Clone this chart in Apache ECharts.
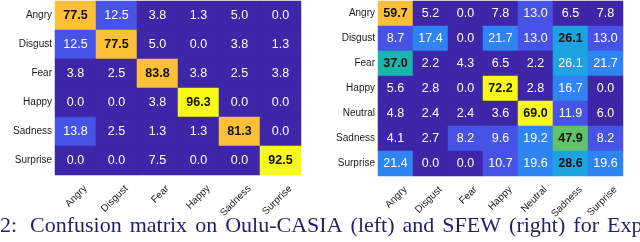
<!DOCTYPE html>
<html>
<head>
<meta charset="utf-8">
<script src="https://cdn.jsdelivr.net/npm/echarts@6/dist/echarts.min.js"></script>
<style>
html,body{margin:0;padding:0;background:#fff;}
#c{width:640px;height:242px;}
</style>
</head>
<body>
<div id="c"></div>
<script>
const leftCategories = ['Angry','Disgust','Fear','Happy','Sadness','Surprise'];
const rightCategories = ['Angry','Disgust','Fear','Happy','Neutral','Sadness','Surprise'];

const leftAngry    = [77.5, 12.5, 3.8, 1.3, 5.0, 0.0];
const leftDisgust  = [12.5, 77.5, 5.0, 0.0, 3.8, 1.3];
const leftFear     = [3.8, 2.5, 83.8, 3.8, 2.5, 3.8];
const leftHappy    = [0.0, 0.0, 3.8, 96.3, 0.0, 0.0];
const leftSadness  = [13.8, 2.5, 1.3, 1.3, 81.3, 0.0];
const leftSurprise = [0.0, 0.0, 7.5, 0.0, 0.0, 92.5];

const rightAngry    = [59.7, 5.2, 0.0, 7.8, 13.0, 6.5, 7.8];
const rightDisgust  = [8.7, 17.4, 0.0, 21.7, 13.0, 26.1, 13.0];
const rightFear     = [37.0, 2.2, 4.3, 6.5, 2.2, 26.1, 21.7];
const rightHappy    = [5.6, 2.8, 0.0, 72.2, 2.8, 16.7, 0.0];
const rightNeutral  = [4.8, 2.4, 2.4, 3.6, 69.0, 11.9, 6.0];
const rightSadness  = [4.1, 2.7, 8.2, 9.6, 19.2, 47.9, 8.2];
const rightSurprise = [21.4, 0.0, 0.0, 10.7, 19.6, 28.6, 19.6];

const captionWords = ['2:', 'Confusion', 'matrix', 'on', 'Oulu-CASIA', '(left)', 'and', 'SFEW', '(right)', 'for', 'Exp'];

const leftMatrix = [leftAngry, leftDisgust, leftFear, leftHappy, leftSadness, leftSurprise];
const rightMatrix = [rightAngry, rightDisgust, rightFear, rightHappy, rightNeutral, rightSadness, rightSurprise];

function buildData(m) {
  const out = [];
  m.forEach((row, r) => {
    const mx = Math.max.apply(null, row);
    row.forEach((v, c) => {
      const isMax = v === mx;
      out.push({
        value: [c, r, v],
        label: {
          color: isMax ? '#111' : '#fff',
          fontWeight: isMax ? 'bold' : 'normal'
        }
      });
    });
  });
  return out;
}

const palette = ['#3e26a8', '#4752e6', '#2e84f2', '#1da2e2', '#1ab6ae', '#60c36a', '#b8bd3a', '#fbbf38', '#f8f916'];
const leftColors = ['#3e26a8', '#4752e6', '#2e84f2', '#1da2e2', '#1ab6ae', '#8cc24c', '#fbbf38', '#f8f916'];

function pieces(maxV, colors) {
  const n = colors.length, w = maxV / n, p = [];
  for (let i = 0; i < n; i++) {
    const piece = { color: colors[i] };
    if (i > 0) piece.gte = w * i;
    if (i < n - 1) piece.lt = w * (i + 1);
    p.push(piece);
  }
  return p;
}

const yLabelFont = { fontFamily: 'Liberation Sans, Arial, sans-serif', fontSize: 10, color: '#1a1a1a' };
const xLabelFont = { fontFamily: 'Liberation Sans, Arial, sans-serif', fontSize: 10, color: '#1a1a1a' };

function hiddenX(grid, cats) {
  return { type: 'category', gridIndex: grid, data: cats, axisLine: { show: false }, axisTick: { show: false }, axisLabel: { show: false }, splitLine: { show: false } };
}
function labelX(grid, cats) {
  return { type: 'category', gridIndex: grid, data: cats, axisLine: { show: false }, axisTick: { show: false },
    axisLabel: Object.assign({ rotate: 45, margin: 12, interval: 0 }, xLabelFont), splitLine: { show: false } };
}
function catY(grid, cats, show) {
  return { type: 'category', gridIndex: grid, data: cats, inverse: true, axisLine: { show: false }, axisTick: { show: false },
    axisLabel: Object.assign({ show: show, margin: 3, interval: 0 }, yLabelFont), splitLine: { show: false } };
}

const chart = echarts.init(document.getElementById('c'), null, { renderer: 'canvas' });

// caption layout (justified words)
const capFont = '22px "Liberation Serif", "Times New Roman", serif';
const ctx = document.createElement('canvas').getContext('2d');
ctx.font = capFont;
const widths = captionWords.map(w => ctx.measureText(w).width);
const startX = 0, lastX = 607;
const sumBefore = widths.slice(0, widths.length - 1).reduce((a, b) => a + b, 0);
const gap = (lastX - startX - sumBefore) / (captionWords.length - 1 + 0.6);
let cx = startX;
const captionEls = captionWords.map((w, i) => {
  const el = { type: 'text', left: cx, top: 215, style: { text: w, font: capFont, fill: '#1f1f6b' }, silent: true };
  cx += widths[i] + gap + (i === 0 ? gap * 0.6 : 0);
  return el;
});

chart.setOption({
  animation: false,
  grid: [
    { left: 55, top: 1, width: 246, height: 174 },
    { left: 378, top: 1, width: 245, height: 175 },
    { left: 65, top: 1, width: 246, height: 174 },
    { left: 388, top: 1, width: 245, height: 175 }
  ],
  xAxis: [hiddenX(0, leftCategories), hiddenX(1, rightCategories), labelX(2, leftCategories), labelX(3, rightCategories)],
  yAxis: [catY(0, leftCategories, true), catY(1, rightCategories, true), catY(2, leftCategories, false), catY(3, rightCategories, false)],
  visualMap: [
    { type: 'piecewise', show: false, seriesIndex: 0, dimension: 2, pieces: pieces(96.3, leftColors) },
    { type: 'piecewise', show: false, seriesIndex: 1, dimension: 2, pieces: pieces(72.2, palette) }
  ],
  series: [
    { type: 'heatmap', xAxisIndex: 0, yAxisIndex: 0, data: buildData(leftMatrix),
      label: { show: true, fontFamily: 'Liberation Sans, Arial, sans-serif', fontSize: 12.5, formatter: p => p.value[2].toFixed(1) },
      itemStyle: { borderWidth: 0 }, emphasis: { disabled: true } },
    { type: 'heatmap', xAxisIndex: 1, yAxisIndex: 1, data: buildData(rightMatrix),
      label: { show: true, fontFamily: 'Liberation Sans, Arial, sans-serif', fontSize: 12.5, formatter: p => p.value[2].toFixed(1) },
      itemStyle: { borderWidth: 0 }, emphasis: { disabled: true } }
  ],
  graphic: captionEls
});
</script>
</body>
</html>
